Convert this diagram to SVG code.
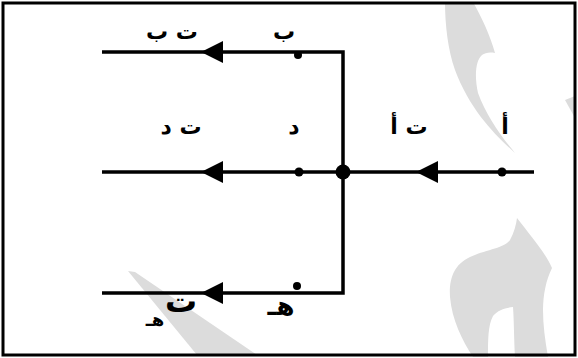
<svg xmlns="http://www.w3.org/2000/svg" xmlns:xlink="http://www.w3.org/1999/xlink" width="578" height="358" viewBox="0 0 578 358">
<style>
.wire{stroke:#000;stroke-width:3.5;fill:none}
.lbl{font-family:"DejaVu Sans","Noto Sans",sans-serif;font-weight:bold;font-size:22px;fill:#000;text-anchor:middle}
.wm{fill:#dcdcdc;stroke:none}
</style>
<defs>
<path id="arr" d="M0 0 L22 -11 L22 11 Z" fill="#000"/>
</defs>
<rect x="0" y="0" width="578" height="358" fill="#fff"/>
<g id="watermark">
<path class="wm" d="M445 2 L473 2 C482 18 490 35 495 53 C489 52 485 53 482 55 C476 60 474 75 478 93 C486 115 500 135 515 153 C495 135 470 110 455 70 C448 50 445 25 445 2 Z"/>
<path class="wm" d="M565 100 L575 96 L575 118 Z"/>
<path class="wm" d="M517 218 C530 235 545 252 552 268 C546 280 543 295 543 310 C543 325 545 340 548 357 L515 357 C514 340 514 320 513 307 C505 308 498 310 493 316 C488 325 488 340 488 357 L473 357 C462 340 452 320 450 297 C449 280 453 265 470 257 C485 250 505 248 510 240 C514 233 516 225 517 218 Z"/>
<path class="wm" d="M128 271 L135 272 L257 355 L197 355 Z"/>
</g>
<rect x="3" y="3" width="572" height="352" fill="none" stroke="#000" stroke-width="3"/>
<g id="connectors">
<path class="wire" d="M102 52 H343 V293 H102"/>
<path class="wire" d="M102 172 H534"/>
<use xlink:href="#arr" x="201" y="52"/>
<use xlink:href="#arr" x="201" y="172"/>
<use xlink:href="#arr" x="416" y="172"/>
<use xlink:href="#arr" x="201" y="293"/>
</g>
<g id="node-junction"><circle cx="343" cy="172" r="7.5" fill="#000"/></g>
<g id="node-a"><circle cx="502" cy="172" r="4.5" fill="#000"/><text class="lbl" x="505" y="134">أ</text><text class="lbl" x="409" y="134">ت أ</text></g>
<g id="node-b"><circle cx="298" cy="55" r="4" fill="#000"/><text class="lbl" x="284" y="39">ب</text><text class="lbl" x="172" y="39">ت ب</text></g>
<g id="node-d"><circle cx="299" cy="172" r="4.5" fill="#000"/><text class="lbl" x="294" y="134">د</text><text class="lbl" x="181" y="134">ت د</text></g>
<g id="node-h"><circle cx="297" cy="286" r="4" fill="#000"/><text class="lbl" x="281" y="315" style="font-size:26px">هـ</text><text class="lbl" x="181" y="312" style="font-size:32px">ت</text><text class="lbl" x="155" y="326" style="font-size:18px">هـ</text></g>
</svg>
